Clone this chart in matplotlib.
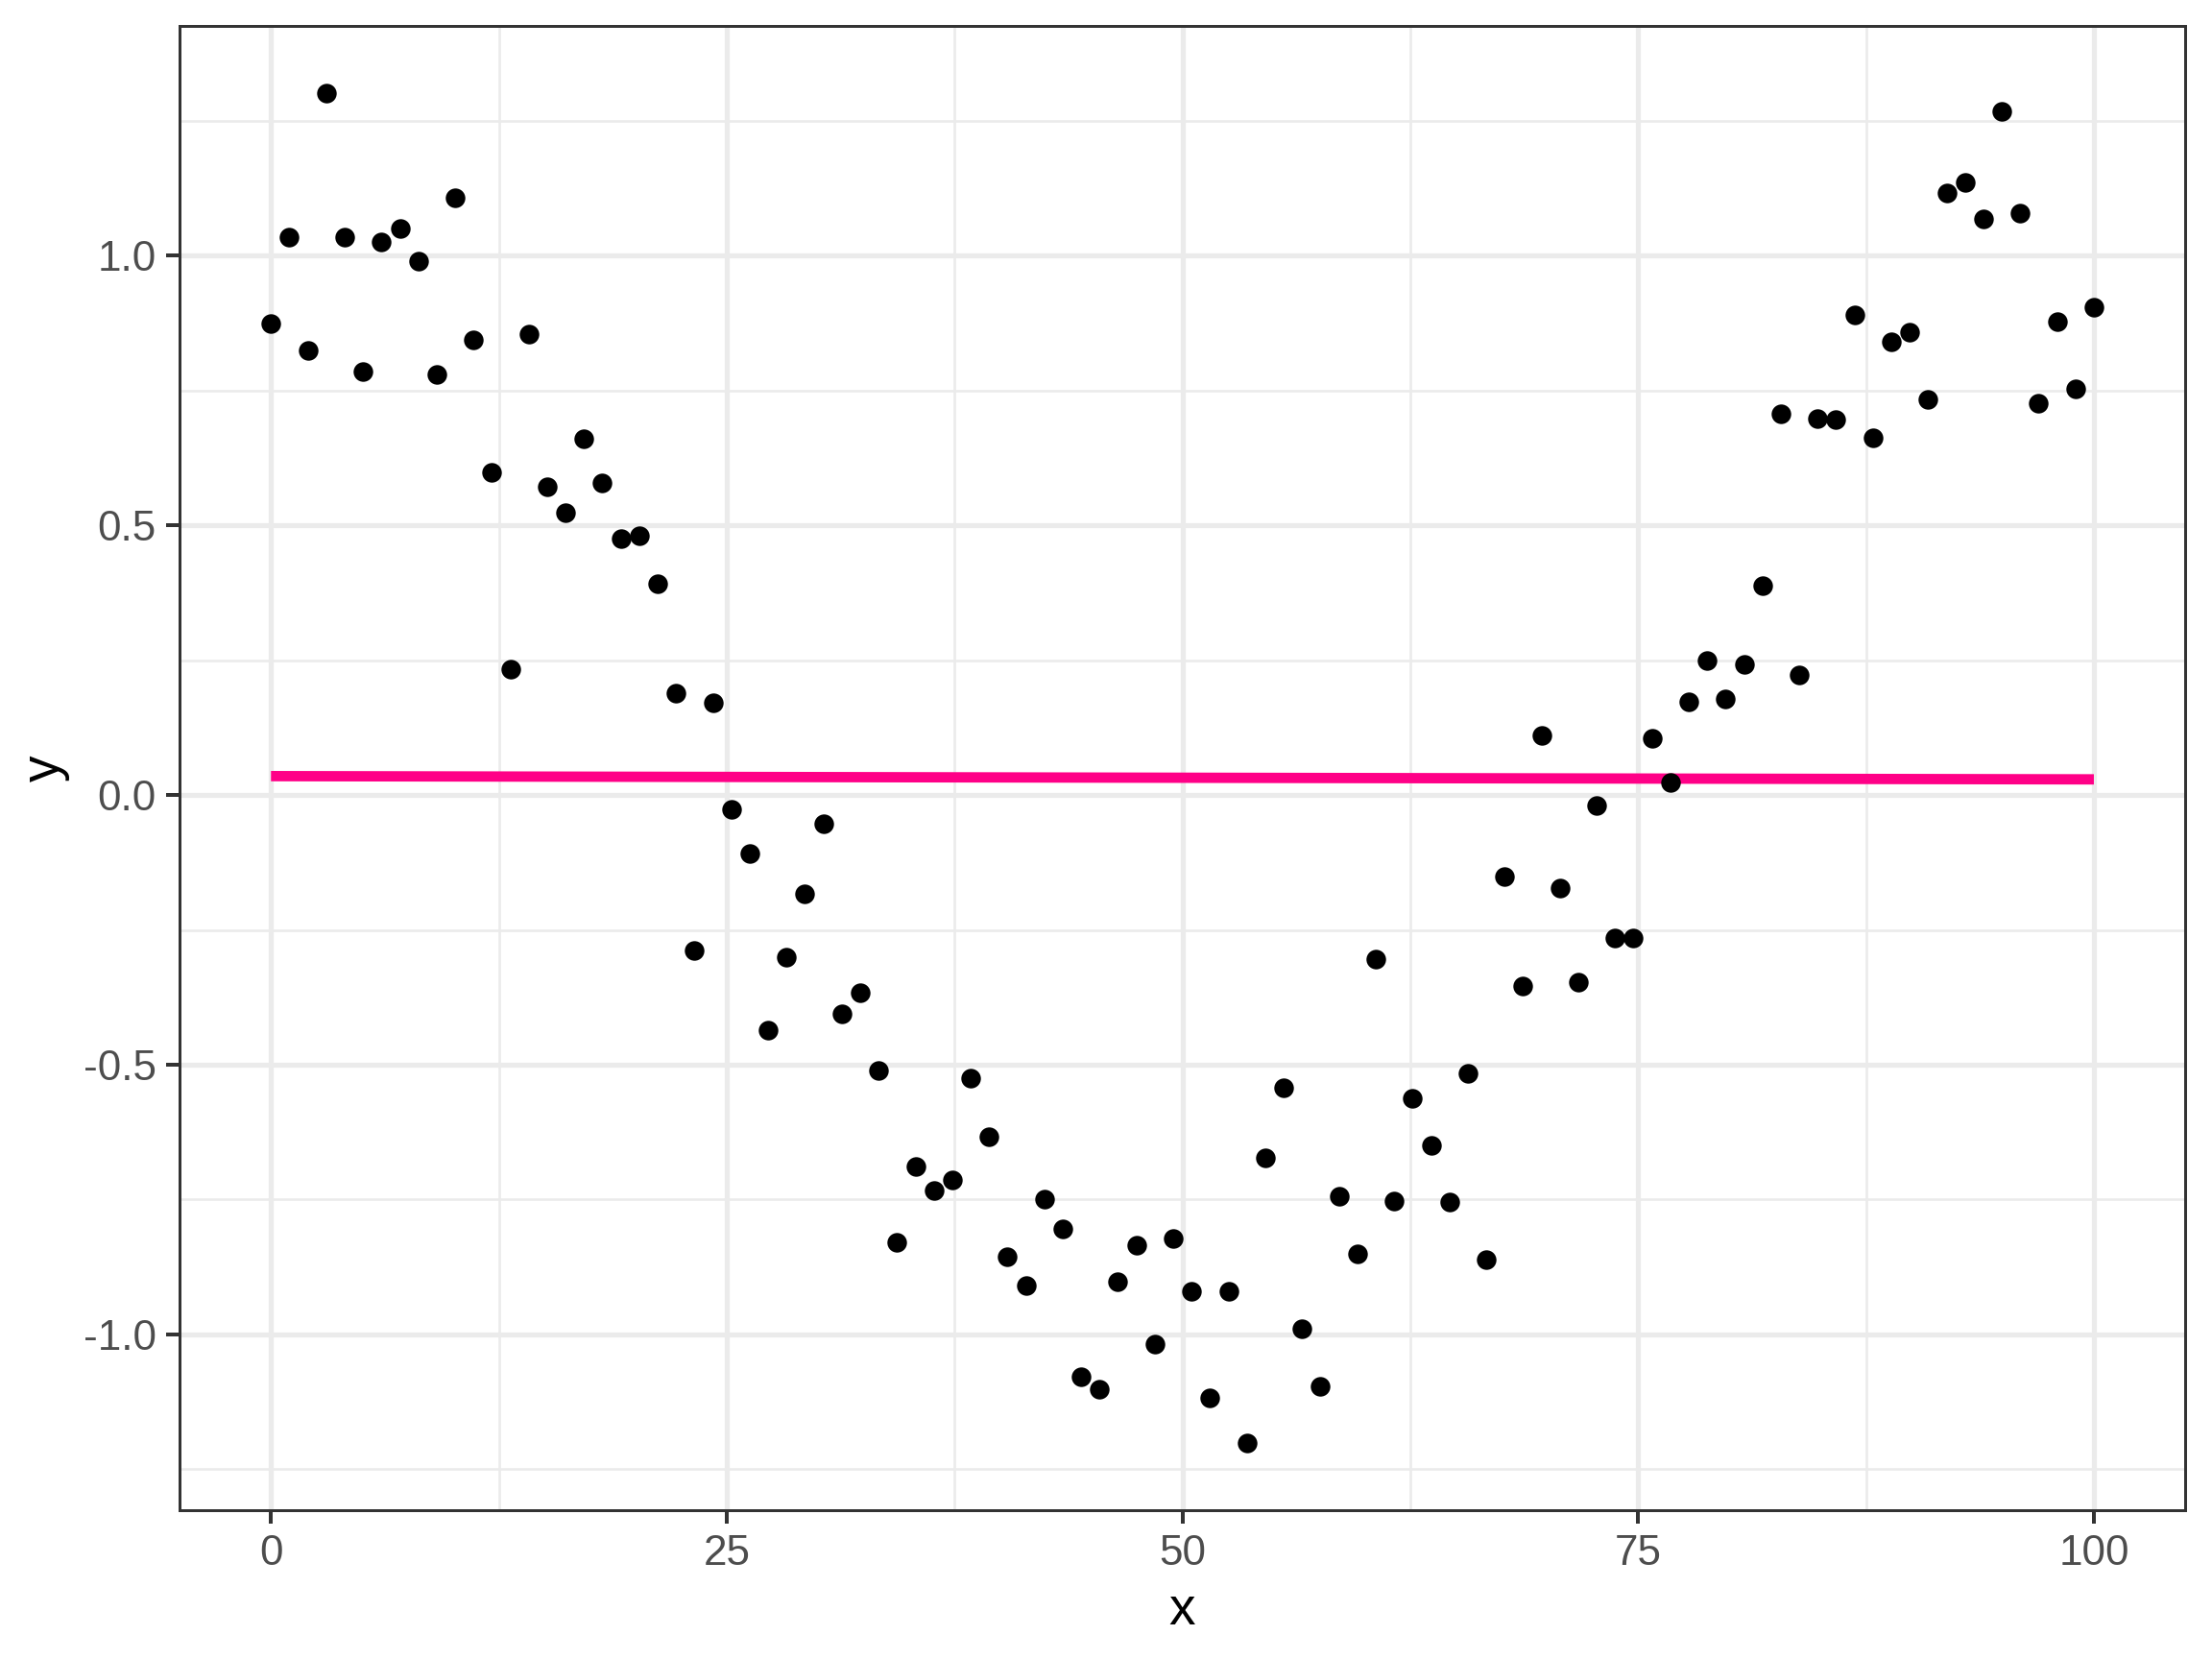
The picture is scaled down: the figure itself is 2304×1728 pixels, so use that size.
import numpy as np
import matplotlib
matplotlib.use("Agg")
import matplotlib.pyplot as plt
from matplotlib.ticker import FixedLocator, FuncFormatter

plt.rcParams['font.family'] = ['Liberation Sans', 'DejaVu Sans']
plt.rcParams['axes.unicode_minus'] = False

# 100 points spread evenly over 0..100
x_vals = np.linspace(0, 100, 100)
y_vals = [
    0.874, 1.034, 0.824, 1.301, 1.034, 0.785, 1.025, 1.050, 0.989, 0.779,
    1.108, 0.844, 0.599, 0.234, 0.855, 0.571, 0.523, 0.660, 0.579, 0.475,
    0.480, 0.391, 0.188, -0.288, 0.171, -0.027, -0.109, -0.436, -0.300, -0.183,
    -0.054, -0.406, -0.366, -0.510, -0.829, -0.688, -0.733, -0.713, -0.525, -0.634,
    -0.857, -0.909, -0.749, -0.804, -1.078, -1.101, -0.902, -0.834, -1.018, -0.823,
    -0.920, -1.118, -0.920, -1.201, -0.672, -0.543, -0.990, -1.097, -0.744, -0.851,
    -0.305, -0.753, -0.563, -0.649, -0.754, -0.516, -0.861, -0.151, -0.355, 0.110,
    -0.172, -0.347, -0.019, -0.266, -0.266, 0.105, 0.024, 0.173, 0.250, 0.178,
    0.243, 0.389, 0.707, 0.222, 0.698, 0.697, 0.891, 0.663, 0.841, 0.859,
    0.733, 1.116, 1.135, 1.068, 1.267, 1.079, 0.727, 0.877, 0.753, 0.904,
]

# fitted line end points
fit_x = [0, 100]
fit_y = [0.035, 0.029]

x_major = [0, 25, 50, 75, 100]
x_minor = [12.5, 37.5, 62.5, 87.5]
y_major = [-1.0, -0.5, 0.0, 0.5, 1.0]
y_minor = [-1.25, -0.75, -0.25, 0.25, 0.75, 1.25]

fig = plt.figure(figsize=(8, 6), dpi=288)
ax = fig.add_axes([0.0813, 0.0897, 0.9065, 0.8947])

xr = 100
ax.set_xlim(-0.05 * xr, 100 + 0.05 * xr)
ymin, ymax = min(y_vals), max(y_vals)
yr = ymax - ymin
ax.set_ylim(ymin - 0.05 * yr, ymax + 0.05 * yr)

for v in x_minor:
    ax.axvline(v, color='#EBEBEB', lw=0.67, zorder=0)
for v in y_minor:
    ax.axhline(v, color='#EBEBEB', lw=0.67, zorder=0)
for v in x_major:
    ax.axvline(v, color='#EBEBEB', lw=1.3, zorder=0)
for v in y_major:
    ax.axhline(v, color='#EBEBEB', lw=1.3, zorder=0)

ax.plot(x_vals, y_vals, 'o', color='black', markersize=5.1, markeredgewidth=0, zorder=3)
ax.plot(fit_x, fit_y, color='#FF0087', lw=2.7, solid_capstyle='butt', zorder=2)

ax.xaxis.set_major_locator(FixedLocator(x_major))
ax.yaxis.set_major_locator(FixedLocator(y_major))
ax.yaxis.set_major_formatter(FuncFormatter(lambda v, p: '%.1f' % v))
ax.xaxis.set_major_formatter(FuncFormatter(lambda v, p: '%d' % v))

ax.tick_params(axis='both', length=3.4, width=1.0, color='#333333',
               labelsize=11, labelcolor='#4D4D4D', pad=2.8)

for s in ax.spines.values():
    s.set_color('#333333')
    s.set_linewidth(0.75)

ax.set_xlabel('x', fontsize=13.75, color='black', labelpad=3.4)
ax.set_ylabel('y', fontsize=13.75, color='black', labelpad=3.4)

fig.savefig('out.png', dpi=288, facecolor='white')
